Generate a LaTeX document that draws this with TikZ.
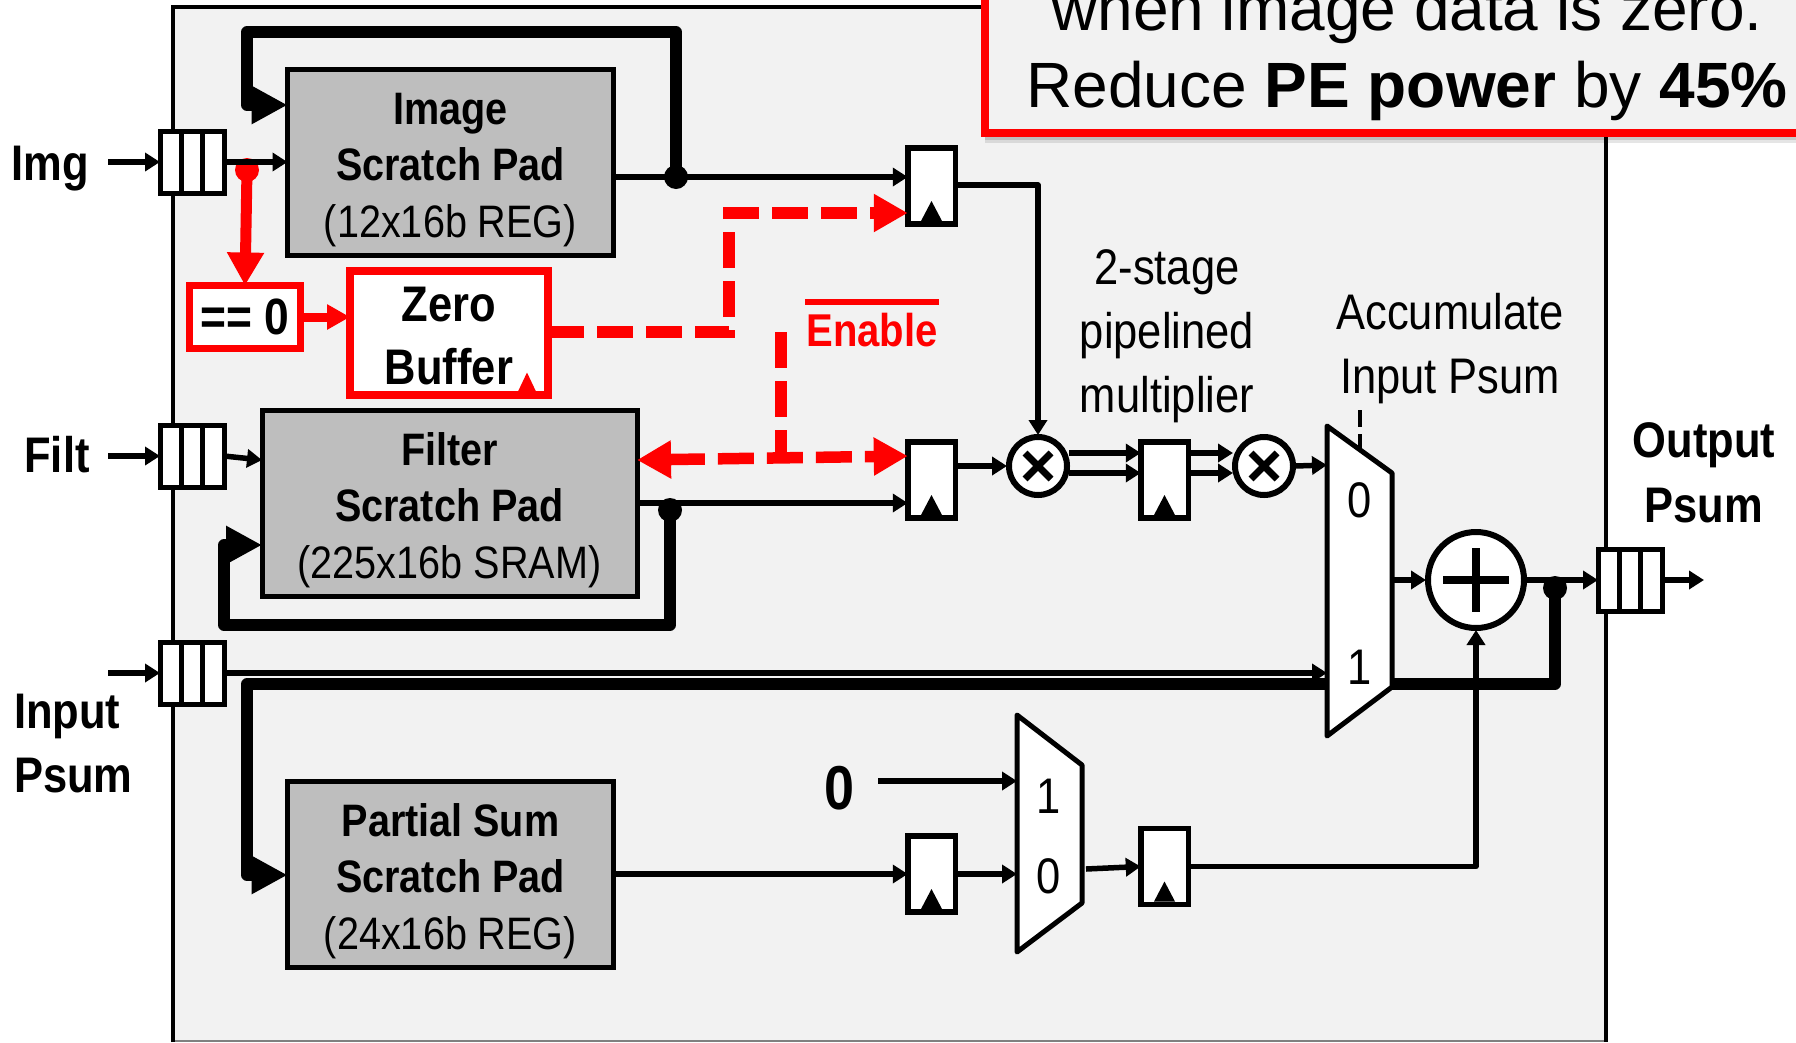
\documentclass[tikz,border=0pt]{standalone}
\usepackage{fontspec}
\usetikzlibrary{arrows.meta,calc}
\newfontfamily\narfont[FakeStretch=.87]{Liberation Sans}
\setmainfont{Liberation Sans}
\definecolor{panel}{HTML}{F2F2F2}
\definecolor{padgray}{HTML}{BEBEBE}
\definecolor{redc}{HTML}{FF0000}
\newcommand{\fsz}[1]{\fontsize{#1}{#1}\selectfont}
\newcommand{\fifobox}[3]{%
  \node[fifostyle] (#1) at (#2,#3) {};
  \draw[line width=5] ($(#1.north west)!.333!(#1.north east)$) -- ($(#1.south west)!.333!(#1.south east)$);
  \draw[line width=5] ($(#1.north west)!.667!(#1.north east)$) -- ($(#1.south west)!.667!(#1.south east)$);
}
\newcommand{\regbox}[3]{%
  \node[regstyle] (#1) at (#2,#3) {};
  \fill ($(#1.south)+(-10.5,-3)$) -- ($(#1.south)+(10.5,-3)$) -- ($(#1.south)+(0,-23)$) -- cycle;
}
\tikzset{
  x=1pt,y=-1pt,
  fifostyle/.style={draw,fill=white,line width=5,minimum width=64,minimum height=62,inner sep=0,outer sep=0},
  regstyle/.style={draw,fill=white,line width=5.5,minimum width=47.5,minimum height=76,inner sep=0,outer sep=0},
  padstyle/.style={draw,fill=padgray,line width=5,inner sep=0,outer sep=0,align=center,text=black,
    font=\narfont\fsz{45.5}\setlength{\baselineskip}{56.5pt}},
  wire/.style={line width=5.5,-{Triangle[length=15,width=18]},line join=round},
  bus/.style={line width=11.5,line join=round,-{Triangle[length=36,width=36]}},
  redbus/.style={draw=redc,line width=11,-{Triangle[length=33,width=35]}},
  reddash/.style={draw=redc,line width=11.5,dash pattern=on 36 off 13},
  redtip/.style={-{Triangle[length=34,width=36]}},
  dotstyle/.style={circle,fill=black,minimum size=24,inner sep=0,outer sep=0},
  multstyle/.style={circle,draw,fill=white,line width=6,minimum size=58,inner sep=0,outer sep=2,
    path picture={\draw[line width=7] (path picture bounding box.center) +(-13,-13) -- +(13,13) +(-13,13) -- +(13,-13);}},
  addstyle/.style={circle,draw,fill=white,line width=6,minimum size=96,inner sep=0,outer sep=2,
    path picture={\draw[line width=8] (path picture bounding box.center) +(-33,0) -- +(33,0) +(0,-32) -- +(0,32);}},
  muxstyle/.style={draw,fill=white,line width=5,line join=round},
  lab/.style={anchor=base,inner sep=0,outer sep=0,font=\narfont\fsz{50}},
  blab/.style={anchor=base,inner sep=0,outer sep=0,font=\narfont\bfseries\fsz{50}},
}
\begin{document}
\begin{tikzpicture}
\useasboundingbox (0,0) rectangle (1796,1042);
\fill[white] (0,0) rectangle (1796,1042);
% panel
\fill[panel] (173,7) rectangle (1606,1041);
\draw[gray,line width=1.5] (173,1041) -- (1606,1041);
\draw[line width=4.5] (173,1042) -- (173,7) -- (1606,7) -- (1606,1042);

% scratch pads
\node[padstyle,minimum width=326,minimum height=186] (imgsp) at (450.5,162) {\rule{0pt}{47pt}\textbf{Image}\\\textbf{Scratch Pad}\\(12x16b REG)};
\node[padstyle,minimum width=375,minimum height=186] (filsp) at (449.5,503) {\rule{0pt}{47pt}\textbf{Filter}\\\textbf{Scratch Pad}\\(225x16b SRAM)};
\node[padstyle,minimum width=326,minimum height=186] (parsp) at (450.5,874) {\rule{0pt}{47pt}\textbf{Partial Sum}\\\textbf{Scratch Pad}\\(24x16b REG)};

% zero logic
\node[draw=redc,fill=white,line width=7.5,minimum width=111,minimum height=63,inner sep=0,outer sep=0,font=\narfont\bfseries\fsz{51}] (eqz) at (245,317) {== 0};
\node[draw=redc,fill=white,line width=8,minimum width=198,minimum height=124,inner sep=0,outer sep=0,align=center,font=\narfont\bfseries\fsz{50}\setlength{\baselineskip}{63pt}] (zbuf) at (449,332.5) {\rule{0pt}{42pt}Zero\\Buffer};
\fill[redc] ($(zbuf.south east)+(-30,-3)$) -- ($(zbuf.south east)+(-12,-3)$) -- ($(zbuf.south east)+(-21,-22)$) -- cycle;

% FIFOs and registers
\fifobox{fimg}{192}{162}
\fifobox{ffil}{192}{456}
\fifobox{fpsum}{192}{673}
\fifobox{fout}{1630}{580}
\regbox{ra}{931.5}{186}
\regbox{rb}{931.5}{480}
\regbox{rc}{1164.5}{480}
\regbox{rd}{931.5}{874}
\regbox{re}{1164.5}{866.5}

% operators
\node[multstyle] (ma) at (1038,466) {};
\node[multstyle] (mb) at (1264,466) {};
\node[addstyle] (add) at (1476,580) {};

% free ends and junctions
\coordinate (imgin) at (108,162);
\coordinate (filin) at (108,456);
\coordinate (psin) at (108,673);
\coordinate (zsrc) at (108,781);
\coordinate (outend) at (1704,580);
\coordinate (muxain) at (1327,465);
\coordinate (muxap) at (1327,673);
\coordinate (muxabus) at (1327,684);
\coordinate (muxaout) at (1392,580);
\coordinate (muxarb) at (1392,684);
\coordinate (muxbh) at (1017,781);
\coordinate (muxbl) at (1017,874);
\coordinate (muxbo) at (1086,869);
\coordinate (imgo) at (614,177);
\coordinate (filo) at (638,503);
\node[dotstyle] (dimg) at (676,177) {};
\node[dotstyle] (dfil) at (670,510) {};
\node[dotstyle] (dout) at (1555,588) {};
\node[circle,fill=redc,minimum size=24,inner sep=0] (dred) at (247,170) {};

% thin wires
\draw[wire] (imgin) -- (fimg.west);
\draw[wire] (filin) -- (ffil.west);
\draw[wire] (psin) -- (fpsum.west);
\draw[wire] (fimg.east) -- (fimg.east -| imgsp.west);
\draw[wire] (ffil.east) -- (filsp.west |- 0,460);
\draw[wire] (fpsum.east) -- (muxap);
\draw[wire] (imgo) -- (ra.west |- imgo);
\draw[wire] (filo) -- (rb.west |- filo);
\draw[wire] (rb.east |- ma) -- (ma.west);
\draw[wire] (ra.east |- 0,185) -| (ma.north);
\draw[wire] ($(ma.east)+(0,-13)$) -- (rc.west |- 0,453);
\draw[wire] ($(ma.east)+(0,7)$) -- (rc.west |- 0,473);
\draw[wire] (rc.east |- 0,453) -- ($(mb.west)+(0,-13)$);
\draw[wire] (rc.east |- 0,473) -- ($(mb.west)+(0,7)$);
\draw[wire] (mb.east) -- (muxain);
\draw[wire] (muxaout) -- (add.west);
\draw[wire] (add.east) -- (fout.west);
\draw[wire] (fout.east) -- (outend);
\draw[wire] (parsp.east) -- (rd.west);
\draw[wire] (rd.east) -- (muxbl);
\draw[wire] (zsrc -| 878,0) -- (muxbh);
\draw[wire] (muxbo) -- (re.west);
\draw[wire] (re.east) -| (add.south);

% thick feedback buses
\draw[bus] (dimg.center) -- (676,32) -- (247,32) -- (247,105) -- (imgsp.west |- 0,105);
\draw[bus] (dfil.center) -- (670,625) -- (224,625) -- (224,545) -- (filsp.west |- 0,545);
\draw[bus] (muxabus) -- (247,684) -- (247,875) -- (parsp.west |- 0,875);
\draw[line width=11.5,line join=round] (muxarb) -- (1555,684) -- (dout.center);
\draw[line width=4] (1476,640) -- (1476,690);

% red control
\draw[redbus] (dred.center) -- (eqz.north);
\draw[draw=redc,line width=9,-{Triangle[length=23,width=24]}] (eqz.east) -- (eqz.east -| zbuf.west);
\draw[reddash,redtip] (zbuf.east |- 0,332) -- (729,332) -- (729,213) -- (ra.west |- 0,213);
\draw[reddash,redtip,{Triangle[length=34,width=36]}-{Triangle[length=34,width=36]}] (filsp.east |- 0,460) -- (rb.west |- 0,456);
\draw[reddash] (781,332) -- (781,459);
\draw[redc,line width=5.5] (805,302) -- (939,302);
\node[blab,text=redc,font=\narfont\bfseries\fsz{46}] (enab) at (872,346) {Enable};

% muxes
\draw[line width=4.5,dash pattern=on 17 off 7] (1360,410) -- (1360,450);
\draw[muxstyle] (1327,426) -- (1392,473) -- (1392,687) -- (1327,736) -- cycle;
\draw[muxstyle] (1017,715) -- (1082,765) -- (1082,903) -- (1017,952) -- cycle;
\node[lab] (mua0) at (1360,517) {0};
\node[lab] (mua1) at (1360,684) {1};
\node[lab] (mub1) at (1049,813) {1};
\node[lab] (mub0) at (1049,893) {0};
\node[blab,font=\narfont\bfseries\fsz{62}] (zero) at (839,809) {0};

% labels
\node[blab] (limg) at (50,180) {Img};
\node[blab] (lfilt) at (57,472) {Filt};
\node[blab,anchor=base west] (linp) at (14,728) {Input};
\node[blab,anchor=base west] (lpsum) at (14,792) {Psum};
\node[blab] (lout) at (1704,457) {Output};
\node[blab] (lopsum) at (1704,522) {Psum};
\node[lab] (l2s) at (1167,284) {2-stage};
\node[lab] (lpipe) at (1167,348) {pipelined};
\node[lab] (lmul) at (1167,412) {multiplier};
\node[lab] (lacc) at (1450,329) {Accumulate};
\node[lab] (lips) at (1450,393) {Input Psum};

% callout
\foreach \s/\o in {10/.10,7/.12,4/.16}{\fill[black,opacity=\o] (985,100) rectangle (1830,133+\s);}
\node[draw=redc,fill=panel,line width=7.5,minimum width=845,minimum height=173,inner sep=0,outer sep=0] (callout) at (1407.5,46.5) {};
\node[anchor=base,inner sep=0,font=\fsz{64}] (calla) at (1407,30) {when image data is zero.};
\node[anchor=base,inner sep=0,font=\fsz{64}] (callb) at (1407,107) {Reduce \textbf{PE power} by \textbf{45\%}};
\end{tikzpicture}
\end{document}
